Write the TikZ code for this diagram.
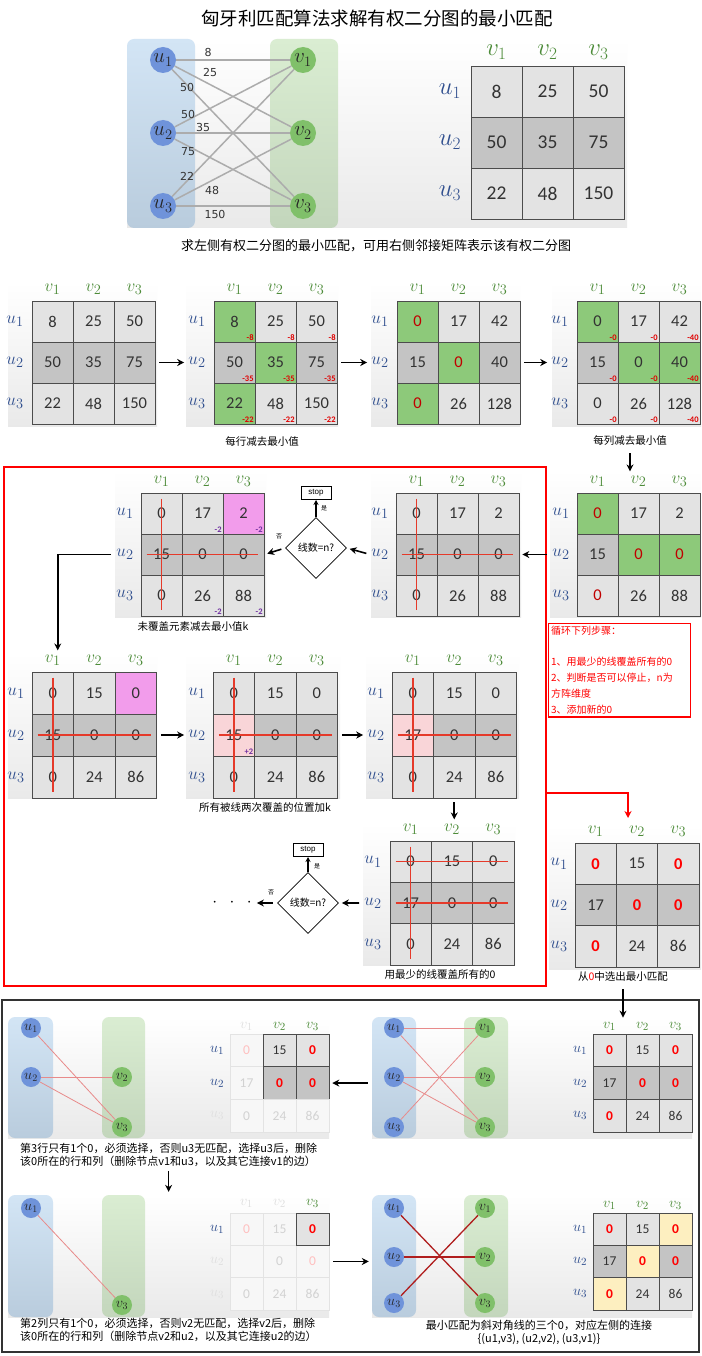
\documentclass[tikz,border=0pt]{standalone}
\usepackage{fontspec}
\setmainfont{Carlito}
\newfontfamily\cjk{Noto Sans CJK SC}
\newfontfamily\wtfont{DejaVu Sans}
\newfontfamily\arialfont{Liberation Sans}
\usetikzlibrary{arrows.meta,positioning,shapes.geometric,fit}

\definecolor{cl}{HTML}{E3E3E3}
\definecolor{cd}{HTML}{C4C4C4}
\definecolor{cg}{HTML}{8DC97A}
\definecolor{cp}{HTML}{F29CEB}
\definecolor{cq}{HTML}{F9D5D8}
\definecolor{cy}{HTML}{FDEFC0}
\definecolor{cf}{HTML}{F7F7F7}
\definecolor{ublue}{HTML}{2F4E8E}
\definecolor{vgreen}{HTML}{4C8B38}
\definecolor{nblue}{HTML}{6F93DA}
\definecolor{ngreen}{HTML}{80C06A}
\definecolor{dred}{HTML}{E00000}
\definecolor{zred}{HTML}{C00000}
\definecolor{zbr}{HTML}{FF0000}
\definecolor{cred}{HTML}{E53A2A}
\definecolor{dpurple}{HTML}{7030A0}
\definecolor{sideb1}{HTML}{D3E5F5}
\definecolor{sideb2}{HTML}{B9CCDD}
\definecolor{sideg1}{HTML}{DAEDD2}
\definecolor{sideg2}{HTML}{C3D6BC}
\definecolor{ledge}{HTML}{E88A8A}
\definecolor{dedge}{HTML}{B01E1E}

\newcommand{\zr}{\textcolor{zred}{0}}
\newcommand{\zb}{\textbf{\textcolor{zbr}{0}}}

% 3x3 matrix: name, origin, cell width, cell height, entries r/c/value/style
\newcommand{\mtx}[5]{%
  \begin{scope}[shift={#2}]
    \foreach \r/\c/\v/\s in {#5}
      \node[cell,\s,minimum width=#3pt,minimum height=#4pt] (#1\r\c) at ({(\c-0.5)*#3},{(\r-0.5)*#4}) {\v};
  \end{scope}}
% row and column labels: name, origin, cell width, cell height, dx, dy
\newcommand{\hdr}[6]{%
  \begin{scope}[shift={#2}]
    \foreach \k in {1,2,3} {
      \node[vlab] (#1v\k) at ({(\k-0.5)*#3},-#6) {$v_{\k}$};
      \node[ulab] (#1u\k) at (-#5,{(\k-0.5)*#4}) {$u_{\k}$};
    }
  \end{scope}}

\tikzset{
  num/.style={font=\fontsize{16.5}{18}\selectfont},
  lab/.style={font=\fontsize{19}{20}\selectfont, inner sep=1pt},
  cell/.style={draw=gray!60!black, line width=0.6pt, inner sep=0pt, text=black!80, num},
  lt/.style={fill=cl}, dk/.style={fill=cd}, gn/.style={fill=cg}, pk/.style={fill=cp},
  lp/.style={fill=cq}, yl/.style={fill=cy},
  hl/.style={fill=cl, draw=black!70, line width=1pt},
  fd/.style={fill=cf, draw=gray!22, text=gray!35},
  fp/.style={fd, text=red!25},
  vlab/.style={lab, text=vgreen},
  ulab/.style={lab, text=ublue},
  flab/.style={lab, text=gray!25},
  pnl/.style={top color=white, bottom color=gray!17, inner sep=0pt},
  uside/.style={rounded corners=7pt, top color=sideb1, bottom color=sideb2, inner sep=0pt},
  vside/.style={rounded corners=7pt, top color=sideg1, bottom color=sideg2, inner sep=0pt},
  unode/.style={circle, fill=nblue, inner sep=0pt, text=black!85},
  vnode/.style={circle, fill=ngreen, inner sep=0pt, text=black!85},
  wedge/.style={draw=gray!65, line width=1.5pt},
  wt/.style={font=\wtfont\fontsize{11}{12}\selectfont, text=black!80, inner sep=1pt},
  ledgeline/.style={draw=ledge, line width=0.8pt},
  dedgeline/.style={draw=dedge, line width=1.3pt},
  arr/.style={-{Stealth[length=7pt,width=7pt]}, line width=1.6pt, shorten <=4pt, shorten >=3pt},
  smallarr/.style={-{Stealth[length=5pt,width=5pt]}, line width=1.1pt},
  rarr/.style={-{Stealth[length=7pt,width=7pt]}, draw=red, line width=1.5pt},
  cover/.style={draw=cred, line width=1.6pt, shorten <=6pt, shorten >=6pt},
  dec/.style={anchor=south east, inner sep=1.5pt, font=\bfseries\fontsize{8.5}{9}\selectfont},
  capt/.style={font=\cjk\fontsize{10.5}{12}\selectfont},
  capsm/.style={font=\cjk\fontsize{11}{13}\selectfont, align=left, anchor=north west, inner sep=0pt},
  ask/.style={diamond, draw, line width=0.6pt, fill=white, minimum width=61pt, minimum height=61pt, inner sep=0pt, font=\cjk\fontsize{10}{11}\selectfont},
  stopbox/.style={draw, line width=1pt, fill=white, minimum width=30pt, minimum height=13pt, inner sep=0pt, font=\arialfont\fontsize{8}{9}\selectfont},
  yesno/.style={font=\cjk\fontsize{6}{7}\selectfont, inner sep=0pt},
  steps/.style={draw=red, line width=1.3pt, text=red, font=\cjk\fontsize{10}{16}\selectfont, align=left, text width=137pt, anchor=north west, inner sep=2.5pt},
}

\begin{document}
\begin{tikzpicture}[x=1pt,y=-1pt]
  \fill[white] (0,0) rectangle (701,1356);
  \useasboundingbox (0,0) rectangle (701,1356);

  % title
  \node[font=\cjk\fontsize{18.5}{20}\selectfont] (title) at (377,18) {匈牙利匹配算法求解有权二分图的最小匹配};

  % weighted bipartite graph
  \node[pnl, fit={(127,39) (627,228)}] (p0) {};
  \node[uside, fit={(127,39) (195,228)}] (s0u) {};
  \node[vside, fit={(270,39) (338,228)}] (s0v) {};
  \begin{scope}[unode/.append style={minimum size=26pt, font=\fontsize{20}{21}\selectfont},
                vnode/.append style={minimum size=26pt, font=\fontsize{20}{21}\selectfont}]
    \foreach \i/\y in {1/60,2/133,3/206} {
      \node[unode] (u\i) at (163,\y) {$u_{\i}$};
      \node[vnode] (v\i) at (303,\y) {$v_{\i}$};
    }
  \end{scope}
  \foreach \i in {1,2,3}
    \foreach \j in {1,2,3}
      \draw[wedge] (u\i) -- (v\j);
  \foreach \w/\x/\y [count=\k] in {8/208/52,25/210/72,50/187/87,50/188/114,35/203/127,75/188/152,22/187/176,48/212/190,150/215/214}
    \node[wt] (w\k) at (\x,\y) {\w};

  % adjacency matrix
  \begin{scope}[lab/.style={font=\fontsize{25}{26}\selectfont, inner sep=1pt},
                num/.style={font=\fontsize{19.5}{21}\selectfont}]
    \hdr{t}{(471,66)}{51}{51}{21}{14}
    \mtx{t}{(471,66)}{51}{51}{1/1/8/lt,1/2/25/lt,1/3/50/lt,2/1/50/dk,2/2/35/dk,2/3/75/dk,3/1/22/lt,3/2/48/lt,3/3/150/lt}
  \end{scope}
  \node[font=\cjk\fontsize{13}{15}\selectfont] (cap0) at (376,246) {求左侧有权二分图的最小匹配，可用右侧邻接矩阵表示该有权二分图};

  % row reduction, column reduction
  \node[pnl, fit={(8,282) (157,426)}] (p1) {};
  \node[pnl, fit={(186,282) (338,426)}] (p2) {};
  \node[pnl, fit={(371,282) (520,426)}] (p3) {};
  \node[pnl, fit={(552,282) (701,426)}] (p4) {};

  \hdr{a}{(32,301)}{41}{41}{17}{12}
  \mtx{a}{(32,301)}{41}{41}{1/1/8/lt,1/2/25/lt,1/3/50/lt,2/1/50/dk,2/2/35/dk,2/3/75/dk,3/1/22/lt,3/2/48/lt,3/3/150/lt}

  \hdr{b}{(214,301)}{41}{41}{17}{12}
  \mtx{b}{(214,301)}{41}{41}{1/1/8/gn,1/2/25/lt,1/3/50/lt,2/1/50/dk,2/2/35/gn,2/3/75/dk,3/1/22/gn,3/2/48/lt,3/3/150/lt}
  \foreach \r/\d in {1/-8,2/-35,3/-22}
    \foreach \c in {1,2,3}
      \node[dec, text=dred] (bd\r\c) at (b\r\c.south east) {\d};

  \hdr{c}{(397,301)}{41}{41}{17}{12}
  \mtx{c}{(397,301)}{41}{41}{1/1/\zr/gn,1/2/17/lt,1/3/42/lt,2/1/15/dk,2/2/\zr/gn,2/3/40/dk,3/1/\zr/gn,3/2/26/lt,3/3/128/lt}

  \hdr{d}{(577,301)}{41}{41}{17}{12}
  \mtx{d}{(577,301)}{41}{41}{1/1/0/gn,1/2/17/lt,1/3/42/lt,2/1/15/dk,2/2/0/gn,2/3/40/gn,3/1/0/lt,3/2/26/lt,3/3/128/lt}
  \foreach \c/\d in {1/-0,2/-0,3/-40}
    \foreach \r in {1,2,3}
      \node[dec, text=dred] (dd\r\c) at (d\r\c.south east) {\d};

  \draw[arr] (a23.east) -- (bu2.west);
  \draw[arr] (b23.east) -- (cu2.west);
  \draw[arr] (c23.east) -- (du2.west);
  \node[capt] (capb) at (262,441) {每行减去最小值};
  \node[capt] (capd) at (630,441) {每列减去最小值};

  % loop
  \draw[red, line width=1.5pt] (4,467) rectangle (546,986);
  \node[pnl, fit={(115,470) (266,617)}] (p5) {};
  \node[pnl, fit={(371,470) (521,617)}] (p6) {};
  \node[pnl, fit={(550,470) (701,617)}] (p7) {};

  \hdr{e}{(577,493)}{41}{41}{16}{12}
  \mtx{e}{(577,493)}{41}{41}{1/1/\zr/gn,1/2/17/lt,1/3/2/lt,2/1/15/dk,2/2/\zr/gn,2/3/\zr/gn,3/1/\zr/lt,3/2/26/lt,3/3/88/lt}
  \draw[arr] (capd.south) -- (capd.south |- ev2.north);

  \hdr{f}{(396,493)}{41}{41}{16}{12}
  \mtx{f}{(396,493)}{41}{41}{1/1/0/lt,1/2/17/lt,1/3/2/lt,2/1/15/dk,2/2/0/dk,2/3/0/dk,3/1/0/lt,3/2/26/lt,3/3/88/lt}
  \draw[cover] (f11.north) -- (f31.south);
  \draw[cover] (f21.west) -- (f23.east);

  \hdr{g}{(141,493)}{41}{41}{16}{12}
  \mtx{g}{(141,493)}{41}{41}{1/1/0/lt,1/2/17/lt,1/3/2/pk,2/1/15/dk,2/2/0/dk,2/3/0/dk,3/1/0/lt,3/2/26/lt,3/3/88/lt}
  \foreach \rc in {12,13,32,33}
    \node[dec, text=dpurple] (gd\rc) at (g\rc.south east) {-2};
  \draw[cover] (g11.north) -- (g31.south);
  \draw[cover] (g21.west) -- (g23.east);
  \node[capt] (capg) at (193,627) {未覆盖元素减去最小值k};

  \node[ask] (ask1) at (316,548) {线数=n?};
  \node[stopbox] (stop1) at (316,493) {stop};
  \node[yesno] (yes1) at (324,508) {是};
  \node[yesno] (no1) at (279,536) {否};
  \draw[smallarr] (ask1.north) -- (stop1.south);
  \draw[arr] (eu2.west) -- (f23.east);
  \draw[arr] (fu2.west) -- (ask1.east);
  \draw[arr] (ask1.west) -- (g23.east);

  \node[steps] (steps) at (548,623) {循环下列步骤：\\[15pt]1、用最少的线覆盖所有的0\\2、判断是否可以停止，n为\\方阵维度\\3、添加新的0};

  \node[pnl, fit={(8,653) (157,798)}] (p8) {};
  \node[pnl, fit={(186,653) (340,798)}] (p9) {};
  \node[pnl, fit={(366,653) (519,798)}] (p10) {};

  \hdr{h}{(32,672)}{41.5}{42}{16}{12}
  \mtx{h}{(32,672)}{41.5}{42}{1/1/0/lt,1/2/15/lt,1/3/0/pk,2/1/15/dk,2/2/0/dk,2/3/0/dk,3/1/0/lt,3/2/24/lt,3/3/86/lt}
  \draw[cover] (h11.north) -- (h31.south);
  \draw[cover] (h21.west) -- (h23.east);
  \draw[arr] (gu2.west) -| ([xshift=5pt]hv1.north);

  \hdr{i}{(213,672)}{41.5}{42}{16}{12}
  \mtx{i}{(213,672)}{41.5}{42}{1/1/0/lt,1/2/15/lt,1/3/0/lt,2/1/15/lp,2/2/0/dk,2/3/0/dk,3/1/0/lt,3/2/24/lt,3/3/86/lt}
  \node[dec, text=dpurple] (id21) at (i21.south east) {+2};
  \draw[cover] (i11.north) -- (i31.south);
  \draw[cover] (i21.west) -- (i23.east);
  \node[capt] (capi) at (265,807) {所有被线两次覆盖的位置加k};

  \hdr{j}{(392,672)}{41.5}{42}{16}{12}
  \mtx{j}{(392,672)}{41.5}{42}{1/1/0/lt,1/2/15/lt,1/3/0/lt,2/1/17/lp,2/2/0/dk,2/3/0/dk,3/1/0/lt,3/2/24/lt,3/3/86/lt}
  \draw[cover] (j11.north) -- (j31.south);
  \draw[cover] (j21.west) -- (j23.east);

  \draw[arr] (h23.east) -- (iu2.west);
  \draw[arr] (i23.east) -- (ju2.west);

  \node[pnl, fit={(363,823) (515,965)}] (p11) {};
  \hdr{l}{(390,841)}{41.3}{41.3}{17}{12}
  \mtx{l}{(390,841)}{41.3}{41.3}{1/1/0/lt,1/2/15/lt,1/3/0/lt,2/1/17/dk,2/2/0/dk,2/3/0/dk,3/1/0/lt,3/2/24/lt,3/3/86/lt}
  \draw[cover] (l11.north) -- (l31.south);
  \draw[cover] (l11.west) -- (l13.east);
  \draw[cover] (l21.west) -- (l23.east);
  \node[capt] (capl) at (440,975) {用最少的线覆盖所有的0};
  \draw[arr] (j32.south) -- (j32.south |- lv2.north);

  \node[ask] (ask2) at (308,903) {线数=n?};
  \node[stopbox] (stop2) at (308,850) {stop};
  \node[yesno] (yes2) at (317,866) {是};
  \node[yesno] (no2) at (271,892) {否};
  \node[font=\fontsize{16}{16}\selectfont, inner sep=2pt] (dots) at (232,903) {$\cdot$\hspace{12.5pt}$\cdot$\hspace{12.5pt}$\cdot$};
  \draw[smallarr] (ask2.north) -- (stop2.south);
  \draw[arr] (lu2.west) -- (ask2.east);
  \draw[arr] (ask2.west) -- (dots.east);

  % matching from the zeros
  \node[pnl, fit={(549,825) (701,969)}] (p12) {};
  \hdr{k}{(575,843)}{41.3}{41.3}{16}{12}
  \mtx{k}{(575,843)}{41.3}{41.3}{1/1/\zb/lt,1/2/15/lt,1/3/\zb/lt,2/1/17/dk,2/2/\zb/dk,2/3/\zb/dk,3/1/\zb/lt,3/2/24/lt,3/3/86/lt}
  \node[capt] (capk) at (623,977) {从\textcolor{red}{0}中选出最小匹配};
  \coordinate (lp) at (546,793);
  \coordinate (rt) at (628,818);
  \draw[rarr] (lp) -| (rt);

  % deleting rows and columns
  \draw[black!80, line width=1.5pt] (2,1000) rectangle (699,1352);
  \node[pnl, fit={(372,1017) (692,1138)}] (q1) {};
  \node[pnl, fit={(8,1017) (329,1138)}] (q2) {};
  \node[pnl, fit={(8,1195) (329,1317)}] (q3) {};
  \node[pnl, fit={(372,1195) (692,1317)}] (q4) {};
  \node[uside, fit={(372,1017) (416,1138)}] (s1u) {};
  \node[vside, fit={(464,1017) (508,1138)}] (s1v) {};
  \node[uside, fit={(8,1017) (53,1138)}] (s2u) {};
  \node[vside, fit={(102,1017) (145,1138)}] (s2v) {};
  \node[uside, fit={(8,1195) (53,1317)}] (s3u) {};
  \node[vside, fit={(102,1195) (145,1317)}] (s3v) {};
  \node[uside, fit={(372,1195) (416,1317)}] (s4u) {};
  \node[vside, fit={(464,1195) (508,1317)}] (s4v) {};

  \begin{scope}[unode/.append style={minimum size=20pt, font=\fontsize{14}{15}\selectfont},
                vnode/.append style={minimum size=20pt, font=\fontsize{14}{15}\selectfont},
                lab/.style={font=\fontsize{15}{16}\selectfont, inner sep=1pt},
                num/.style={font=\fontsize{13.5}{14}\selectfont}]
    % graph x, matrix m
    \foreach \i/\y in {1/1028,2/1077,3/1127} {
      \node[unode] (xu\i) at (394,\y) {$u_{\i}$};
      \node[vnode] (xv\i) at (485,\y) {$v_{\i}$};
    }
    \foreach \a/\b in {u1/v1,u1/v3,u2/v2,u2/v3,u3/v1}
      \draw[ledgeline] (x\a) -- (x\b);
    \hdr{m}{(593,1034)}{33}{32.7}{13}{8}
    \mtx{m}{(593,1034)}{33}{32.7}{1/1/\zb/lt,1/2/15/lt,1/3/\zb/lt,2/1/17/dk,2/2/\zb/dk,2/3/\zb/dk,3/1/\zb/lt,3/2/24/lt,3/3/86/lt}

    % graph y, matrix n
    \node[unode] (yu1) at (31,1028) {$u_{1}$};
    \node[unode] (yu2) at (31,1077) {$u_{2}$};
    \node[vnode] (yv2) at (122,1077) {$v_{2}$};
    \node[vnode] (yv3) at (122,1127) {$v_{3}$};
    \foreach \a/\b in {u1/v3,u2/v2,u2/v3}
      \draw[ledgeline] (y\a) -- (y\b);
    \mtx{n}{(230,1034)}{33}{32.7}{1/1/0/fp,1/2/15/lt,1/3/\zb/lt,2/1/17/fd,2/2/\zb/dk,2/3/\zb/dk,3/1/0/fd,3/2/24/fd,3/3/86/fd}
    \node[flab] (nv1) at (246.5,1026) {$v_{1}$};
    \node[vlab] (nv2) at (279.5,1026) {$v_{2}$};
    \node[vlab] (nv3) at (312.5,1026) {$v_{3}$};
    \node[ulab] (nu1) at (217,1050.3) {$u_{1}$};
    \node[ulab] (nu2) at (217,1083) {$u_{2}$};
    \node[flab] (nu3) at (217,1115.7) {$u_{3}$};
    \draw[arr] (n23.east -| q1.west) -- (n23.east);
    \node[capsm] (capy) at (20,1143) {第3行只有1个0，必须选择，否则u3无匹配，选择u3后，删除\\该0所在的行和列（删除节点v1和u3，以及其它连接v1的边）};
    \draw[arr] (capy.south) -- (capy.south |- q3.north);

    % graph z, matrix o
    \node[unode] (zu1) at (31,1208) {$u_{1}$};
    \node[vnode] (zv3) at (122,1305) {$v_{3}$};
    \draw[ledgeline] (zu1) -- (zv3);
    \mtx{o}{(230,1213)}{33}{32.3}{1/1/0/fp,1/2/15/fd,2/1/{}/fd,2/2/0/fd,2/3/0/fp,3/1/0/fd,3/2/24/fd,3/3/86/fd,1/3/\zb/hl}
    \node[flab] (ov1) at (246.5,1203) {$v_{1}$};
    \node[flab] (ov2) at (279.5,1203) {$v_{2}$};
    \node[vlab] (ov3) at (312.5,1203) {$v_{3}$};
    \node[ulab] (ou1) at (217,1229) {$u_{1}$};
    \node[flab] (ou2) at (217,1261.5) {$u_{2}$};
    \node[flab] (ou3) at (217,1294) {$u_{3}$};
    \draw[arr] (o23.east) -- (o23.east -| q4.west);
    \node[capsm] (capz) at (20,1318) {第2列只有1个0，必须选择，否则v2无匹配，选择v2后，删除\\该0所在的行和列（删除节点v2和u2，以及其它连接u2的边）};

    % graph w, matrix p
    \foreach \i/\y in {1/1208,2/1257,3/1303} {
      \node[unode] (wu\i) at (394,\y) {$u_{\i}$};
      \node[vnode] (wv\i) at (485,\y) {$v_{\i}$};
    }
    \foreach \a/\b in {u1/v3,u2/v2,u3/v1}
      \draw[dedgeline] (w\a) -- (w\b);
    \hdr{p}{(593,1213)}{33}{32.3}{13}{8}
    \mtx{p}{(593,1213)}{33}{32.3}{1/1/\zb/lt,1/2/15/lt,1/3/\zb/yl,2/1/17/dk,2/2/\zb/yl,2/3/\zb/dk,3/1/\zb/yl,3/2/24/lt,3/3/86/lt}
    \node[capt, font=\cjk\fontsize{11}{13}\selectfont, align=center] (capw) at (539,1332) {最小匹配为斜对角线的三个0，对应左侧的连接\\\{(u1,v3), (u2,v2), (u3,v1)\}};
  \end{scope}
  \draw[arr] (capk.south) -- (capk.south |- mv1.north);
\end{tikzpicture}
\end{document}
